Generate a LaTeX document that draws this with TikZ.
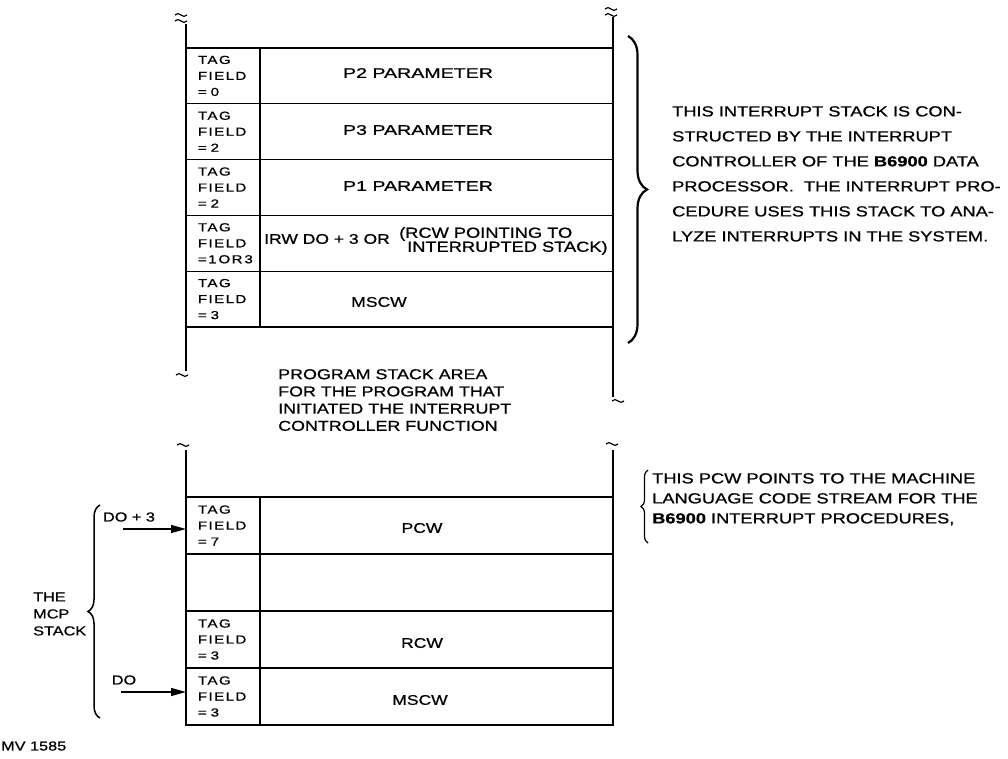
\documentclass[tikz,border=0pt]{standalone}
\usepackage{fontspec}
\setmainfont{Liberation Sans}[FakeStretch=1.25, FakeBold=0.8]
\newfontfamily\tagfont{Liberation Sans}[FakeStretch=1.3, LetterSpace=12, FakeBold=0.8]
\newfontfamily\widefont{Liberation Sans}[FakeStretch=1.4, FakeBold=0.8]
\usetikzlibrary{positioning, arrows.meta, decorations.pathreplacing}

\tikzset{
  frame/.style={line width=1.6pt},
  tagcell/.style={draw, line width=1.3pt, outer sep=0pt, inner sep=0pt,
    minimum width=74, minimum height=55.8, text width=50, align=left,
    font=\tagfont\fontsize{11.6}{16}\selectfont},
  valcell/.style={draw, line width=1.3pt, outer sep=0pt, inner sep=0pt,
    minimum width=353, minimum height=55.8},
  lbl/.style={inner sep=0pt, font=\fontsize{14}{14}\selectfont},
  wide/.style={lbl, font=\widefont\fontsize{14}{14}\selectfont},
  note/.style={inner sep=0pt, align=left, anchor=north west},
  brk/.pic={\draw[line width=1.2pt] (-6,0) .. controls (-2,-5) and (2,5) .. (6,0);},
  ptr/.style={line width=1.3pt, -{Triangle[length=15pt, width=8pt]}},
  brace/.style={decorate, decoration={brace, amplitude=#1}, line width=1.5pt},
}

\begin{document}
\begin{tikzpicture}[x=1pt, y=-1pt]
  \useasboundingbox (0,0) rectangle (1008,759);

  % interrupt stack
  \node[tagcell, anchor=north west] (t1) at (186,48) {TAG\\FIELD\\= 0};
  \node[tagcell, below=0pt of t1] (t2) {TAG\\FIELD\\= 2};
  \node[tagcell, below=0pt of t2] (t3) {TAG\\FIELD\\= 2};
  \node[tagcell, below=0pt of t3] (t4) {TAG\\FIELD\\=1\,OR\,3};
  \node[tagcell, below=0pt of t4] (t5) {TAG\\FIELD\\= 3};
  \node[valcell, right=0pt of t1] (v1) {};
  \node[valcell, right=0pt of t2] (v2) {};
  \node[valcell, right=0pt of t3] (v3) {};
  \node[valcell, right=0pt of t4] (v4) {};
  \node[valcell, right=0pt of t5] (v5) {};

  \node[wide] (p2) at (418,73) {P2 PARAMETER};
  \node[wide] (p3) at (418,130) {P3 PARAMETER};
  \node[wide] (p1) at (418,186) {P1 PARAMETER};
  \node[lbl, anchor=west] (irw) at (264,239) {IRW DO + 3 OR};
  \node[lbl, anchor=west, font=\fontsize{14.6}{14.6}\selectfont] (rcw1) at (399,234) {(RCW POINTING TO};
  \node[lbl, anchor=west, font=\fontsize{14.6}{14.6}\selectfont] (rcw2) at (407,248) {INTERRUPTED STACK)};
  \node[lbl] (mscw1) at (379,302) {MSCW};

  % stack edges and breaks
  \coordinate (lt) at (186,24);
  \coordinate (rt) at (613,17);
  \coordinate (lm) at (186,371);
  \coordinate (rm) at (613,397);
  \coordinate (lb) at (186,450);
  \coordinate (rb) at (613,450);
  \draw[frame] (t1.north west) -- (lt);
  \draw[frame] (v1.north east) -- (rt);
  \draw[frame] (t5.south west) -- (lm);
  \draw[frame] (v5.south east) -- (rm);
  \pic at (181,15) {brk};
  \pic at (181,21) {brk};
  \pic at (611,9) {brk};
  \pic at (611,15) {brk};
  \pic at (182,375) {brk};
  \pic at (618,401) {brk};
  \pic at (183,445) {brk};
  \pic at (612,444) {brk};

  \node[note, font=\fontsize{14.3}{17.2}\selectfont] (prog) at (278,369)
    {PROGRAM STACK AREA\\FOR THE PROGRAM THAT\\INITIATED THE INTERRUPT\\CONTROLLER FUNCTION};

  % MCP stack
  \node[tagcell, anchor=north west, minimum height=57] (t6) at (186,497) {TAG\\FIELD\\= 7};
  \node[tagcell, below=0pt of t6, minimum height=57] (t7) {};
  \node[tagcell, below=0pt of t7, minimum height=57] (t8) {TAG\\FIELD\\= 3};
  \node[tagcell, below=0pt of t8, minimum height=57] (t9) {TAG\\FIELD\\= 3};
  \node[valcell, right=0pt of t6, minimum height=57] (v6) {};
  \node[valcell, right=0pt of t7, minimum height=57] (v7) {};
  \node[valcell, right=0pt of t8, minimum height=57] (v8) {};
  \node[valcell, right=0pt of t9, minimum height=57] (v9) {};
  \draw[frame] (lb) -- (t6.north west);
  \draw[frame] (rb) -- (v6.north east);

  \node[lbl] (pcw) at (422,528) {PCW};
  \node[lbl] (rcw) at (422,643) {RCW};
  \node[lbl] (mscw2) at (420,700) {MSCW};

  % pointers
  \coordinate (d3) at (123,529);
  \coordinate (d0) at (121,692);
  \draw[ptr] (d3) -- (d3 -| t6.west);
  \draw[ptr] (d0) -- (d0 -| t9.west);
  \node[lbl, font=\fontsize{13}{13}\selectfont] (d3l) at (129,517) {DO + 3};
  \node[lbl, font=\fontsize{13}{13}\selectfont] (d0l) at (124,680) {DO};

  % braces and notes
  \draw[brace=12pt] (100,718) -- (100,505);
  \node[note, anchor=west, font=\fontsize{13}{17}\selectfont] (mcp) at (33,614)
    {THE\\MCP\\STACK};

  \draw[brace=19pt, line width=2.2pt] (628,36) -- (628,343);
  \node[note, font=\fontsize{14.6}{25}\selectfont] (intnote) at (672,106)
    {THIS INTERRUPT STACK IS CON-\\STRUCTED BY THE INTERRUPT\\CONTROLLER OF THE \textbf{B6900} DATA\\PROCESSOR.\ \ THE INTERRUPT PRO-\\CEDURE USES THIS STACK TO ANA-\\LYZE INTERRUPTS IN THE SYSTEM.};

  \draw[brace=7pt, line width=1.2pt] (648,543) -- (648,470);
  \node[note, font=\fontsize{14.6}{20}\selectfont] (pcwnote) at (652,473)
    {THIS PCW POINTS TO THE MACHINE\\LANGUAGE CODE STREAM FOR THE\\\textbf{B6900} INTERRUPT PROCEDURES,};

  \node[lbl, anchor=west, font=\fontsize{13}{13}\selectfont] (mv) at (1,746) {MV 1585};
\end{tikzpicture}
\end{document}
